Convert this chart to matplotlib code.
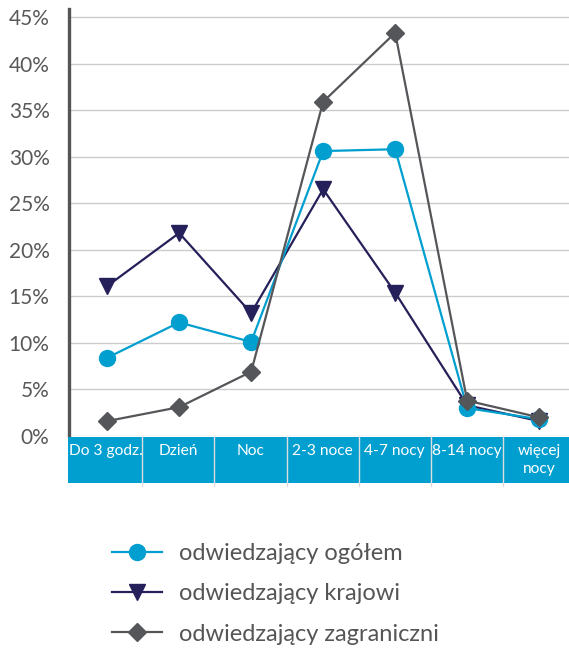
import numpy as np
import matplotlib
matplotlib.use("Agg")
import matplotlib.pyplot as plt

plt.rcParams['font.family'] = ['Lato', 'DejaVu Sans']

categories = ["Do 3 godz.", "Dzień", "Noc", "2-3 noce", "4-7 nocy", "8-14 nocy", "więcej\nnocy"]
ogolem = [8.4, 12.2, 10.1, 30.6, 30.8, 3.0, 1.8]
krajowi = [16.1, 21.8, 13.2, 26.5, 15.4, 3.3, 1.6]
zagraniczni = [1.6, 3.1, 6.9, 35.9, 43.3, 3.8, 2.0]
yticks = [0, 5, 10, 15, 20, 25, 30, 35, 40, 45]

BLUE = "#009fcf"
NAVY = "#25205a"
GRAY = "#555659"

fig = plt.figure(figsize=(5.69, 6.51), dpi=100)
ax = fig.add_axes([69/569, (651-436)/651, 500/569, 427/651])

x = np.arange(len(categories))
xlim = (-0.53, -0.53 + 500/72)

ax.plot(x, ogolem, color=BLUE, lw=1.6, marker='o', ms=11.5, clip_on=False, zorder=4,
        label="odwiedzający ogółem")
ax.plot(x, krajowi, color=NAVY, lw=1.6, marker='v', ms=11, clip_on=False, zorder=3,
        label="odwiedzający krajowi")
ax.plot(x, zagraniczni, color=GRAY, lw=1.6, marker='D', ms=9.5, clip_on=False, zorder=5,
        label="odwiedzający zagraniczni")

ax.set_xlim(*xlim)
ax.set_ylim(0, 45.86)
ax.set_yticks(yticks)
ax.set_yticklabels([f"{v}%" for v in yticks])
ax.tick_params(axis='y', length=0, pad=14, labelsize=15, labelcolor="#595959")
ax.set_xticks([])
for s in ["top", "right", "bottom"]:
    ax.spines[s].set_visible(False)
ax.spines["left"].set_color("#555555")
ax.spines["left"].set_linewidth(2.4)
ax.grid(axis='y', color="#cccccc", lw=1)
ax.set_axisbelow(True)

# blue category band
band = fig.add_axes([68/569, (651-483)/651, 501/569, 46/651])
band.set_facecolor(BLUE)
band.set_xlim(*xlim)
band.set_ylim(0, 1)
band.set_xticks([])
band.set_yticks([])
for s in band.spines.values():
    s.set_visible(False)
for i in range(len(categories) - 1):
    band.plot([i + 0.5, i + 0.5], [-0.06, 1.0], color="#dddddd", lw=1, clip_on=False)
for i, lab in enumerate(categories):
    band.text(i, 0.84, lab, ha='center', va='top', color='white', fontsize=11.2,
              linespacing=1.35)

fig.legend(loc='upper left', bbox_to_anchor=(112/569, 1 - 543/651), frameon=False,
           borderpad=0, borderaxespad=0, fontsize=17, handlelength=2.1,
           handletextpad=0.75, labelspacing=0.82, labelcolor="#555555")

fig.savefig("out.png", dpi=100)
